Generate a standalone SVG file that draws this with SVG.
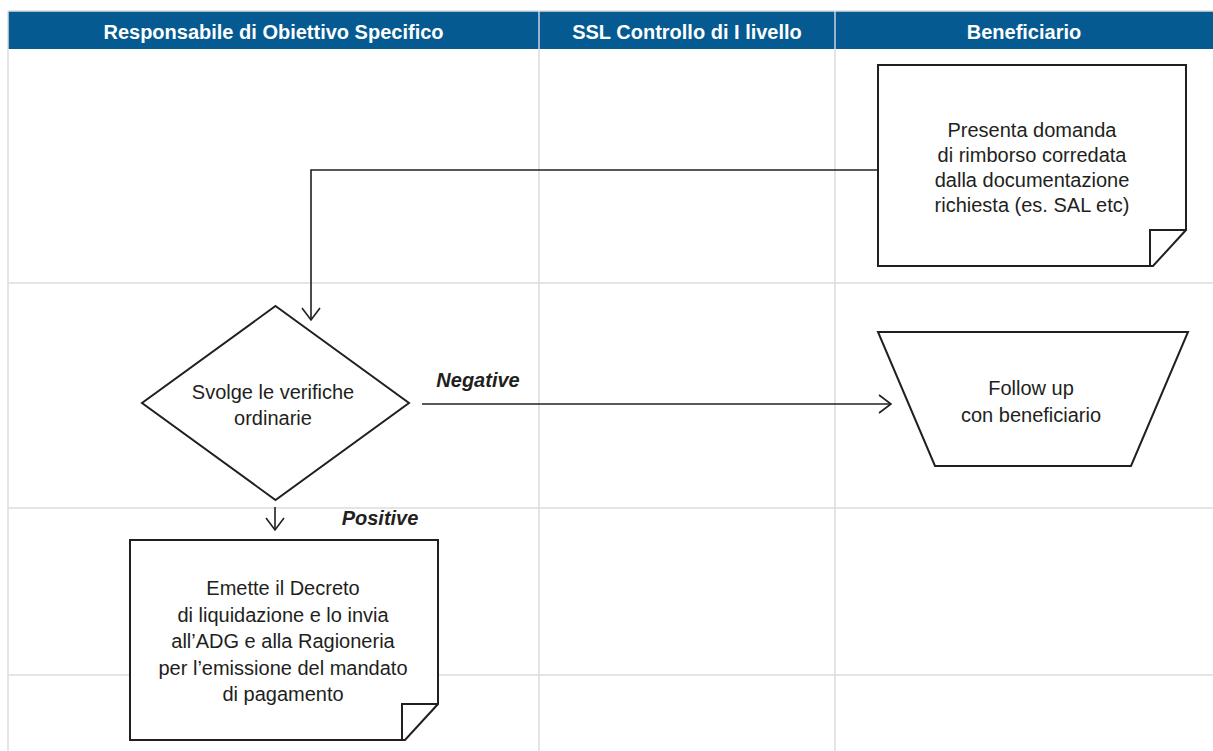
<svg xmlns="http://www.w3.org/2000/svg" width="1213" height="751" viewBox="0 0 1213 751">
<defs>
<style>
.grid{stroke:#dcdcdc;stroke-width:1.5;fill:none}
.hsep{stroke:#c9d5e1;stroke-width:1.5}
.hdr{font-family:"Liberation Sans",Arial,sans-serif;font-weight:bold;font-size:20px;fill:#ffffff;text-anchor:middle}
.shape{fill:#ffffff;stroke:#231f20;stroke-width:2;stroke-linejoin:miter}
.fold{fill:none;stroke:#231f20;stroke-width:2}
.txt{font-family:"Liberation Sans",Arial,sans-serif;font-size:20px;fill:#231f20;text-anchor:middle}
.lbl{font-family:"Liberation Sans",Arial,sans-serif;font-size:20px;font-weight:bold;font-style:italic;fill:#231f20;text-anchor:middle}
.conn{fill:none;stroke:#231f20;stroke-width:1.6}
</style>
<marker id="arr" markerUnits="userSpaceOnUse" viewBox="-14 -11 16 22" refX="0" refY="0" markerWidth="16" markerHeight="22" orient="auto">
<path d="M-12,-9 L0,0 L-12,9" fill="none" stroke="#231f20" stroke-width="1.6"/>
</marker>
</defs>
<rect width="1213" height="751" fill="#ffffff"/>
<g id="lanes">
<rect x="8" y="11" width="1206" height="38" fill="#045a91"/>
<line class="hsep" x1="539" y1="11" x2="539" y2="49"/>
<line class="hsep" x1="835" y1="11" x2="835" y2="49"/>
<line class="grid" x1="8" y1="11" x2="1213" y2="11"/>
<line class="grid" x1="8" y1="11" x2="8" y2="751"/>
<line class="grid" x1="539" y1="49" x2="539" y2="751"/>
<line class="grid" x1="835" y1="49" x2="835" y2="751"/>
<line class="grid" x1="8" y1="283" x2="1213" y2="283"/>
<line class="grid" x1="8" y1="508" x2="1213" y2="508"/>
<line class="grid" x1="8" y1="675" x2="1213" y2="675"/>
<text class="hdr" x="273.5" y="38.5">Responsabile di Obiettivo Specifico</text>
<text class="hdr" x="687" y="38.5">SSL Controllo di I livello</text>
<text class="hdr" x="1024" y="38.5">Beneficiario</text>
</g>
<g id="connectors">
<path class="conn" d="M878,170 H311 V320" marker-end="url(#arr)"/>
<path class="conn" d="M422,404 H891" marker-end="url(#arr)"/>
<path class="conn" d="M275,507 V530" marker-end="url(#arr)"/>
<text class="lbl" x="478" y="387">Negative</text>
<text class="lbl" x="380" y="525">Positive</text>
</g>
<g id="node-presenta">
<path class="shape" d="M878,65 H1186 V230 L1153,266 H878 Z"/>
<path class="fold" d="M1150,266 V230 H1186"/>
<text class="txt" x="1032" y="137">Presenta domanda</text>
<text class="txt" x="1032" y="162">di rimborso corredata</text>
<text class="txt" x="1032" y="187">dalla documentazione</text>
<text class="txt" x="1032" y="212">richiesta (es. SAL etc)</text>
</g>
<g id="node-svolge">
<path class="shape" d="M275.5,306 L409,403 L275.5,500 L142,403 Z"/>
<text class="txt" x="273" y="399">Svolge le verifiche</text>
<text class="txt" x="273" y="425">ordinarie</text>
</g>
<g id="node-followup">
<path class="shape" d="M878,332 H1188 L1131,466 H935 Z"/>
<text class="txt" x="1031" y="395">Follow up</text>
<text class="txt" x="1031" y="422">con beneficiario</text>
</g>
<g id="node-emette">
<path class="shape" d="M130,540 H438 V704 L405,740 H130 Z"/>
<path class="fold" d="M402,740 V704 H438"/>
<text class="txt" x="283" y="595">Emette il Decreto</text>
<text class="txt" x="283" y="621.5">di liquidazione e lo invia</text>
<text class="txt" x="283" y="648">all’ADG e alla Ragioneria</text>
<text class="txt" x="283" y="674.5">per l’emissione del mandato</text>
<text class="txt" x="283" y="701">di pagamento</text>
</g>
</svg>
